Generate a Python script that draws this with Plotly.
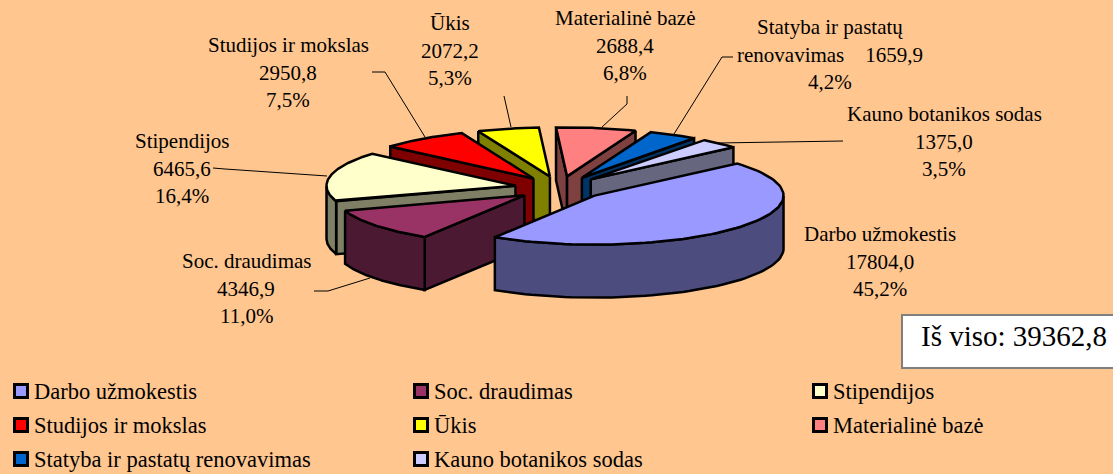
import numpy as np
import plotly.graph_objects as go

categories = ["Darbo užmokestis", "Soc. draudimas", "Stipendijos", "Studijos ir mokslas",
              "Ūkis", "Materialinė bazė", "Statyba ir pastatų renovavimas", "Kauno botanikos sodas"]
values = [17804.0, 4346.9, 6465.6, 2950.8, 2072.2, 2688.4, 1659.9, 1375.0]
top_colors = ["#9999FF", "#993366", "#FFFFCC", "#FF0000", "#FFFF00", "#FF8080", "#0066CC", "#CCCCFF"]
side_colors = ["#4C4C7F", "#4C1933", "#7F7F66", "#7F0000", "#7F7F00", "#7F4040", "#003366", "#66667F"]
total_label = "Iš viso: 39362,8"

label_lines = ["Darbo užmokestis", "Soc. draudimas", "Stipendijos", "Studijos ir mokslas",
               "Ūkis", "Materialinė bazė", "Statyba ir pastatų", "Kauno botanikos sodas"]
label_x = [880, 246, 182, 288, 450, 625, 830, 944]
label_y = [234, 261, 141, 45, 23, 18, 27, 114]
leaders = [None,
           [(314, 291), (328, 291), (370, 278)],
           [(213, 168), (225, 169), (327, 176)],
           [(372, 72), (385, 72), (425, 137)],
           [(504, 96), (511, 127)],
           [(627, 96), (627, 104), (602, 127)],
           [(733, 57), (722, 57), (674, 134)],
           [(843, 141), (718, 143)]]
legend_x = [21, 421, 820]
legend_y = [391, 425, 459]

BG = "#FFC68F"
CX, CY, A, B, DEPTH, EXPLODE, START = 560, 188, 189, 49, 53, 0.24, -41
FONT = "Liberation Serif"

def comma(v, d=1):
    return f"{v:.{d}f}".replace(".", ",")

vals = np.array(values)
sweeps = vals / vals.sum() * 360
starts = START + np.concatenate([[0], np.cumsum(sweeps)[:-1]])
ends = starts + sweeps

fig = go.Figure()

def poly(xs, ys, fill):
    fig.add_trace(go.Scatter(x=list(xs), y=list(ys), mode="lines", fill="toself", fillcolor=fill,
                             line=dict(color="black", width=2.5), hoverinfo="skip", showlegend=False))

def ell(cx, cy, t):
    r = np.radians(t)
    return cx + A * np.cos(r), cy + B * np.sin(r)

draw_order = [4, 5, 3, 6, 7, 2, 1, 0]
for i in draw_order:
    s, e = starts[i], ends[i]
    m = np.radians((s + e) / 2)
    cx = CX + EXPLODE * A * np.cos(m)
    cy = CY + EXPLODE * B * np.sin(m)
    ts = np.linspace(s, e, 80)
    for t, visible in ((s, np.cos(np.radians(s)) < 0), (e, np.cos(np.radians(e)) > 0)):
        if visible:
            x, y = ell(cx, cy, t)
            poly([cx, x, x, cx, cx], [cy, y, y + DEPTH, cy + DEPTH, cy], side_colors[i])
    front = ts[np.sin(np.radians(ts)) >= 0]
    if len(front) > 1:
        x, y = ell(cx, cy, front)
        poly(np.r_[x, x[::-1], x[0]], np.r_[y, y[::-1] + DEPTH, y[0]], side_colors[i])
    x, y = ell(cx, cy, ts)
    poly(np.r_[cx, x, cx], np.r_[cy, y, cy], top_colors[i])

for pts in leaders:
    if pts:
        fig.add_trace(go.Scatter(x=[p[0] for p in pts], y=[p[1] for p in pts], mode="lines",
                                 line=dict(color="black", width=1), hoverinfo="skip", showlegend=False))

def text(x, y, s, size=21, anchor="center"):
    fig.add_annotation(x=x, y=y, xref="x", yref="y", text=s, showarrow=False, xanchor=anchor,
                       yanchor="middle", font=dict(family=FONT, size=size, color="black"))

for i, cat in enumerate(categories):
    pct = comma(values[i] / vals.sum() * 100) + "%"
    val = comma(values[i])
    if i == 6:
        lines = [label_lines[i], "renovavimas\u00a0\u00a0\u00a0\u00a0" + val, pct]
    else:
        lines = [label_lines[i], val, pct]
    for k, ln in enumerate(lines):
        text(label_x[i], label_y[i] + k * 27.5, ln)

fig.add_shape(type="rect", x0=902, x1=1116, y0=315, y1=368, xref="x", yref="y",
              fillcolor="white", line=dict(color="#7F7F7F", width=2))
text(1014, 336, total_label, size=29)

for i, cat in enumerate(categories):
    lx = legend_x[i % 3]
    ly = legend_y[i // 3]
    fig.add_trace(go.Scatter(x=[lx], y=[ly], mode="markers", hoverinfo="skip", showlegend=False,
                             marker=dict(symbol="square", size=13, color=top_colors[i],
                                         line=dict(color="black", width=3))))
    text(lx + 11, ly, cat, size=22.5, anchor="left")

fig.update_layout(width=1113, height=474, margin=dict(l=0, r=0, t=0, b=0), autosize=False,
                  paper_bgcolor=BG, plot_bgcolor=BG, showlegend=False)
fig.update_xaxes(range=[0, 1113], visible=False, fixedrange=True)
fig.update_yaxes(range=[474, 0], visible=False, fixedrange=True)
fig.write_html("out.html", config={"displayModeBar": False},
               post_script="document.body.style.margin='0';document.body.style.overflow='hidden';document.body.style.background='" + BG + "';")
